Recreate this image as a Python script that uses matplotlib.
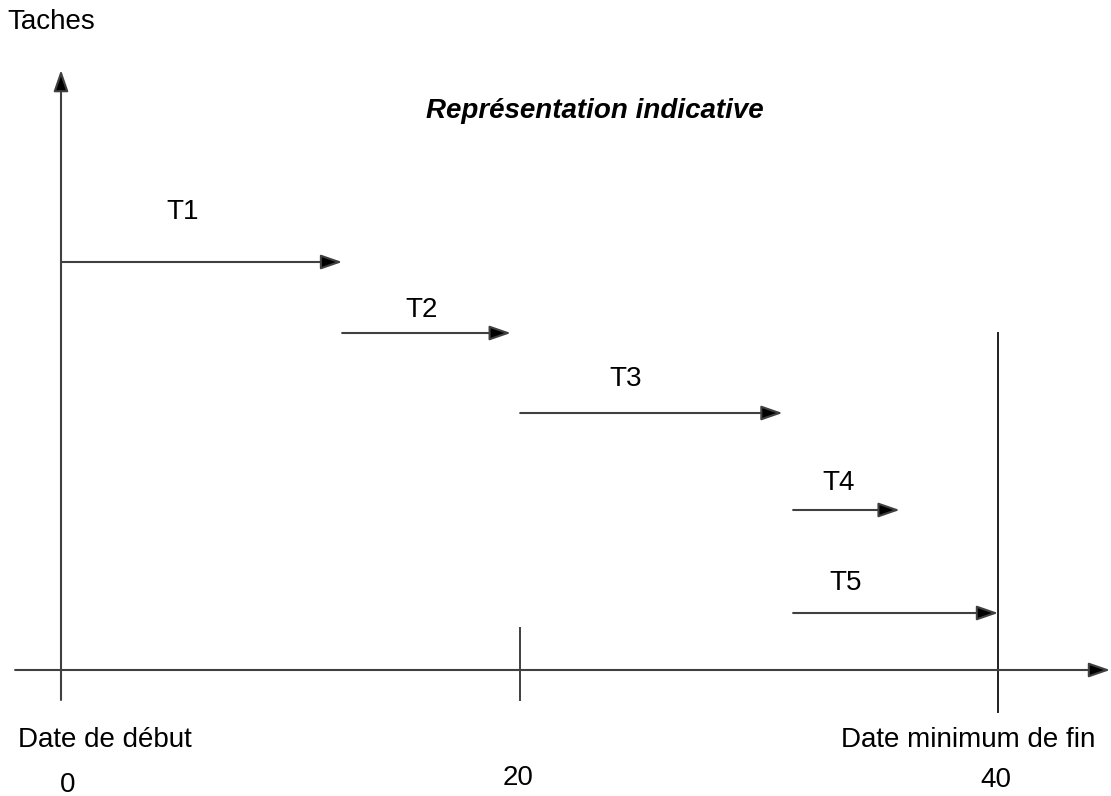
import matplotlib.pyplot as plt

plt.rcParams['font.family'] = ['Liberation Sans', 'DejaVu Sans']

# tasks: start / end dates (indicative) and row height
tasks = ['T1', 'T2', 'T3', 'T4', 'T5']
starts = [0, 12.0, 19.6, 31.25, 31.25]
ends = [12.0, 19.2, 30.8, 35.8, 40]
levels = [40.8, 33.7, 25.7, 16.0, 5.7]
# where each task name sits (date, height)
label_x = [5.2, 15.4, 24.1, 33.2, 33.5]
label_y = [45.8, 36.0, 29.1, 18.7, 8.7]

mark_dates = [0, 19.6, 40]
mark_labels = ['0', '20', '40']

line_col = '#404040'
arrow_style = '-|>,head_length=1.3,head_width=0.45'

fig = plt.figure(figsize=(11.11, 7.96), dpi=100)
ax = fig.add_axes([0, 0, 1, 1])
ax.set_xlim(-2.604, 44.82)
ax.set_ylim(-12.6, 67.0)
ax.axis('off')


def arrow(x0, y0, x1, y1):
    ax.annotate('', xy=(x1, y1), xytext=(x0, y0),
                arrowprops=dict(arrowstyle=arrow_style, facecolor='black',
                                edgecolor=line_col, lw=1.5,
                                shrinkA=0, shrinkB=0, mutation_scale=10))


# axes
arrow(-1.96, 0, 44.78, 0)
arrow(0, -3.0, 0, 60.0)
ax.plot([19.6, 19.6], [-3.0, 4.2], color=line_col, lw=1.4)
ax.plot([40, 40], [-4.2, 33.7], color='#202020', lw=1.4)

# task arrows
for name, s, e, lv, lx, ly in zip(tasks, starts, ends, levels, label_x, label_y):
    arrow(s, lv, e, lv)
    ax.text(lx, ly, name, fontsize=20, ha='center', va='center')

ax.text(-2.27, 64.8, 'Taches', fontsize=20, ha='left', va='center')
ax.text(22.8, 55.9, 'Représentation indicative', fontsize=20,
        fontweight='bold', fontstyle='italic', ha='center', va='center')
ax.text(-1.84, -7.0, 'Date de début', fontsize=20, ha='left', va='center')
ax.text(38.72, -7.0, 'Date minimum de fin', fontsize=20, ha='center', va='center')

label_yy = [-11.5, -10.8, -11.0]
label_dx = [0.3, -0.1, -0.1]
for d, lab, yy, dx in zip(mark_dates, mark_labels, label_yy, label_dx):
    ax.text(d + dx, yy, lab, fontsize=20, ha='center', va='center')

fig.savefig('out.png', dpi=100)
